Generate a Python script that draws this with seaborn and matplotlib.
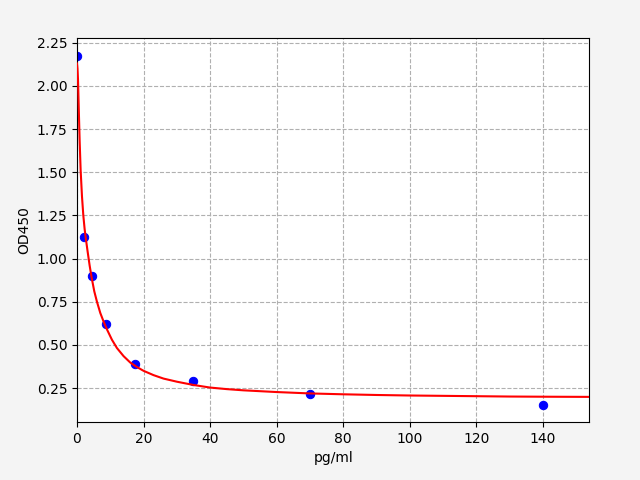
import matplotlib
matplotlib.use("Agg")
import matplotlib.pyplot as plt
import seaborn as sns
import pandas as pd

# Standard points (concentration pg/ml, OD450)
conc = [0, 2.19, 4.38, 8.75, 17.5, 35, 70, 140]
od = [2.175, 1.124, 0.901, 0.621, 0.389, 0.291, 0.215, 0.151]

# Fitted curve
curve_x = [0, 0.15, 0.3, 0.45, 0.6, 0.8, 1.1, 1.5, 1.9, 2.3, 2.7, 3.2, 3.8,
           4.4, 5.2, 6.0, 7.0, 8.0, 9.0, 10.5, 12, 14, 16, 18, 20, 23, 26,
           30, 35, 40, 45, 50, 60, 70, 80, 90, 100, 110, 120, 130, 140, 154]
curve_y = [2.13, 2.10, 2.04, 1.93, 1.82, 1.68, 1.51, 1.36, 1.25, 1.17, 1.11,
           1.04, 0.96, 0.89, 0.81, 0.75, 0.685, 0.635, 0.59, 0.53, 0.482,
           0.435, 0.398, 0.372, 0.35, 0.325, 0.305, 0.287, 0.268, 0.253,
           0.244, 0.237, 0.227, 0.219, 0.214, 0.210, 0.207, 0.205, 0.203,
           0.201, 0.200, 0.199]

pts = pd.DataFrame({"x": conc, "y": od})
crv = pd.DataFrame({"x": curve_x, "y": curve_y})

fig, ax = plt.subplots(figsize=(6.4, 4.8), dpi=100)
fig.patch.set_facecolor("#f4f4f4")
fig.subplots_adjust(left=0.1203, right=0.921, top=0.921, bottom=0.121)

sns.lineplot(data=pts, x="x", y="y", ax=ax, color="#0000ff", linestyle="",
             marker="o", markersize=6, markeredgecolor="#0000ff",
             estimator=None, sort=False, zorder=2)
sns.lineplot(data=crv, x="x", y="y", ax=ax, color="#ff0000", linewidth=1.5,
             sort=False, estimator=None, zorder=3)

ax.set_xlim(0, 154)
ax.set_ylim(0.054, 2.278)
ax.set_yticks([0.25, 0.5, 0.75, 1.0, 1.25, 1.5, 1.75, 2.0, 2.25])
ax.set_yticklabels(["0.25", "0.50", "0.75", "1.00", "1.25", "1.50", "1.75",
                    "2.00", "2.25"])
ax.set_xticks([0, 20, 40, 60, 80, 100, 120, 140])
ax.grid(True, linestyle="--", color="#b0b0b0", linewidth=0.8)
ax.set_axisbelow(True)
ax.set_xlabel("pg/ml")
ax.set_ylabel("OD450")

fig.savefig("out.png", dpi=100, facecolor=fig.get_facecolor())
